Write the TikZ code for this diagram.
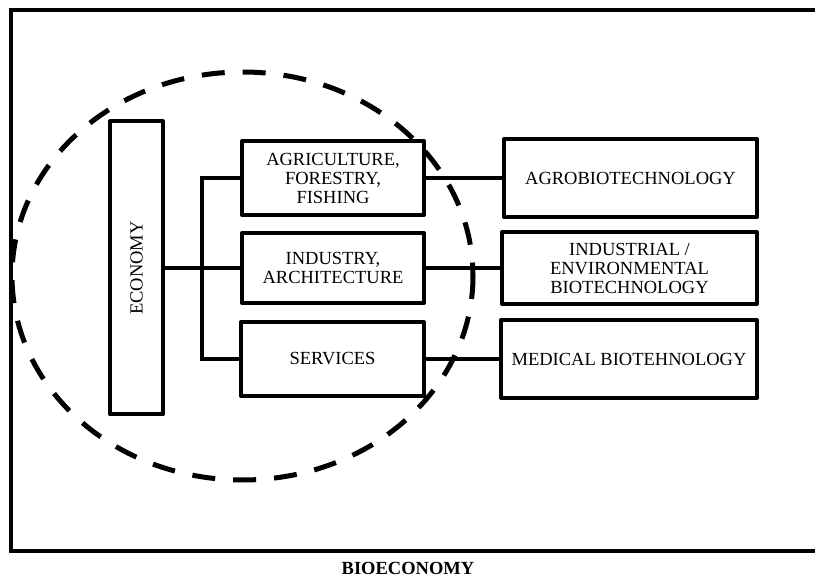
\documentclass[tikz,border=0pt]{standalone}
\usepackage{fontspec}
\setmainfont{Liberation Serif}
\begin{document}
\begin{tikzpicture}[x=1pt,y=-1pt,
  font=\fontsize{18.5}{19}\selectfont,
  box/.style={draw,fill=white,line width=4pt,line join=round,align=center,inner sep=0pt},
  link/.style={line width=4pt}]
\useasboundingbox (0,0) rectangle (815,577);
% outer frame
\draw[line width=4.5pt] (830,10) -- (11,10) -- (11,551) -- (830,551);
\node[font=\fontsize{18.5}{19}\selectfont\bfseries,inner sep=0pt] (bio) at (408,568) {BIOECONOMY};
% sectors
\node[box,minimum width=53pt,minimum height=293pt] (econ) at (136.5,268) {\rotatebox{90}{ECONOMY}};
\node[box,minimum width=182pt,minimum height=74pt] (agri) at (333,178) {AGRICULTURE,\\FORESTRY,\\FISHING};
\node[box,minimum width=182pt,minimum height=70pt] (ind) at (333,268) {INDUSTRY,\\ARCHITECTURE};
\node[box,minimum width=183pt,minimum height=74pt] (serv) at (332.5,359) {SERVICES};
% biotechnologies
\node[box,minimum width=253pt,minimum height=78pt] (agro) at (630.5,178) {AGROBIOTECHNOLOGY};
\node[box,minimum width=255pt,minimum height=72pt] (indenv) at (629.5,268) {INDUSTRIAL /\\ENVIRONMENTAL\\BIOTECHNOLOGY};
\node[box,minimum width=256pt,minimum height=78pt] (med) at (629,359) {MEDICAL BIOTEHNOLOGY};
% connectors
\coordinate (trunk) at (202,268);
\draw[link] (econ.east) -- (ind.west);
\draw[link] (agri.west) -| (trunk) |- (serv.west);
\draw[link] (agri.east) -- (agro.west);
\draw[link] (ind.east) -- (indenv.west);
\draw[link] (serv.east) -- (med.west);
% economy boundary
\draw[line width=5pt,dash pattern=on 23pt off 18pt] (242.5,276) ellipse [x radius=230.5,y radius=204];
\end{tikzpicture}
\end{document}
